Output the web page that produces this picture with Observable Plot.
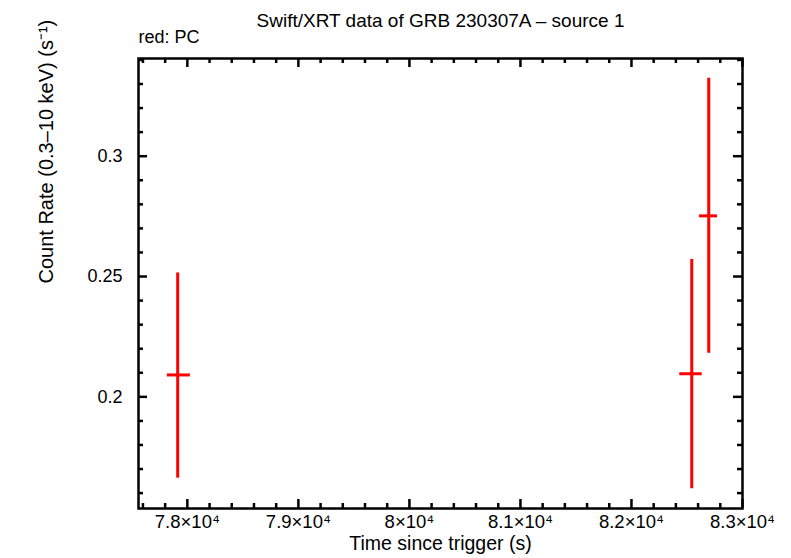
<!DOCTYPE html>
<html>
<head>
<meta charset="utf-8">
<script src="https://cdn.jsdelivr.net/npm/d3@7"></script>
<script src="https://cdn.jsdelivr.net/npm/@observablehq/plot@0.6"></script>
<style>
  html, body { margin: 0; padding: 0; background: #ffffff; }
  #chart { width: 791px; height: 558px; }
</style>
</head>
<body>
<div id="chart"></div>
<script>
// ---- data ----
const titleText = "Swift/XRT data of GRB 230307A – source 1";
const subtitleText = "red: PC";
const xLabel = "Time since trigger (s)";
const yLabel = "Count Rate (0.3–10 keV) (s⁻¹)";

const times    = [77913, 82543, 82696];
const timeLo   = [77820, 82435, 82613];
const timeHi   = [78027, 82637, 82775];
const rates    = [0.2091, 0.2096, 0.2752];
const rateLo   = [0.1662, 0.1618, 0.2181];
const rateHi   = [0.2515, 0.2571, 0.3324];

const xDomain = [77560, 83000];
const yDomain = [0.1536, 0.3406];
const xMajor = [78000, 79000, 80000, 81000, 82000, 83000];
const xMinor = d3.range(77600, 83001, 200).filter(v => v % 1000 !== 0);
const yMajor = [0.2, 0.25, 0.3];
const yMinor = [0.16, 0.17, 0.18, 0.19, 0.21, 0.22, 0.23, 0.24, 0.26, 0.27, 0.28, 0.29, 0.31, 0.32, 0.33, 0.34];

const rows = times.map((t, i) => ({
  t, tlo: timeLo[i], thi: timeHi[i], r: rates[i], rlo: rateLo[i], rhi: rateHi[i]
}));

// ---- layout ----
const W = 791, H = 558;
const mL = 138, mR = 49, mT = 58, mB = 50;
const fw = W - mL - mR, fh = H - mT - mB;
const majLen = 9, minLen = 5;
const red = "#ff0000";
const font = "'Liberation Sans', Arial, Helvetica, sans-serif";

const xFmt = d => `${d / 1e4}×10⁴`;

const chart = Plot.plot({
  width: W, height: H,
  marginLeft: mL, marginRight: mR, marginTop: mT, marginBottom: mB,
  style: { fontFamily: font, fontSize: "18px", color: "black", background: "white" },
  x: { domain: xDomain, axis: null },
  y: { domain: yDomain, axis: null },
  marks: [
    // tick marks (inward, all four sides)
    Plot.tickX(xMajor, { x: d => d, insetTop: fh - majLen, stroke: "black", strokeWidth: 2.5 }),
    Plot.tickX(xMinor, { x: d => d, insetTop: fh - minLen, stroke: "black", strokeWidth: 2.5 }),
    Plot.tickX(xMajor, { x: d => d, insetBottom: fh - majLen, stroke: "black", strokeWidth: 2.5 }),
    Plot.tickX(xMinor, { x: d => d, insetBottom: fh - minLen, stroke: "black", strokeWidth: 2.5 }),
    Plot.tickY(yMajor, { y: d => d, insetRight: fw - majLen, stroke: "black", strokeWidth: 2.5 }),
    Plot.tickY(yMinor, { y: d => d, insetRight: fw - minLen, stroke: "black", strokeWidth: 2.5 }),
    Plot.tickY(yMajor, { y: d => d, insetLeft: fw - majLen, stroke: "black", strokeWidth: 2.5 }),
    Plot.tickY(yMinor, { y: d => d, insetLeft: fw - minLen, stroke: "black", strokeWidth: 2.5 }),
    // tick labels
    Plot.axisX(xMajor, { anchor: "bottom", tickSize: 0, tickPadding: 6, tickFormat: xFmt, label: null, fontSize: 18.5 }),
    Plot.axisY(yMajor, { anchor: "left", tickSize: 0, tickPadding: 16, tickFormat: d => String(d), label: null, fontSize: 18 }),
    // error bars
    Plot.ruleX(rows, { x: "t", y1: "rlo", y2: "rhi", stroke: red, strokeWidth: 3 }),
    Plot.ruleY(rows, { y: "r", x1: "tlo", x2: "thi", stroke: red, strokeWidth: 3 }),
    // frame
    Plot.frame({ stroke: "black", strokeWidth: 2.5 }),
    // titles and axis labels
    Plot.text([titleText], { text: d => d, frameAnchor: "top", lineAnchor: "bottom", dy: -32, fontSize: 19, fill: "black" }),
    Plot.text([subtitleText], { text: d => d, frameAnchor: "top-left", textAnchor: "start", lineAnchor: "bottom", dy: -16, fontSize: 18, fill: "black" }),
    Plot.text([xLabel], { text: d => d, frameAnchor: "bottom", lineAnchor: "bottom", dy: 41, fontSize: 19.5, fill: "black" }),
    Plot.text([yLabel], { text: d => d, frameAnchor: "left", rotate: -90, lineAnchor: "bottom", dx: -86, fontSize: 20, fill: "black" })
  ]
});

document.getElementById("chart").appendChild(chart);
</script>
</body>
</html>
